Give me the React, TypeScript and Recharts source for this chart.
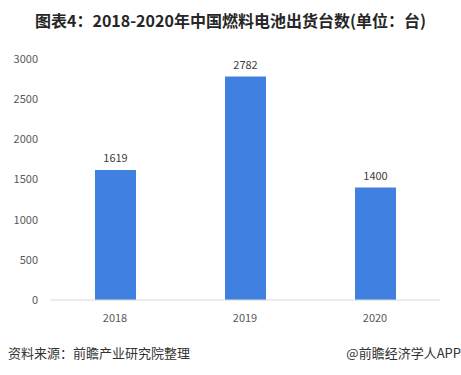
import React from "react";
import { BarChart, Bar, XAxis, YAxis, LabelList } from "recharts";

const years = ["2018", "2019", "2020"];
const shipments = [1619, 2782, 1400];
const yTicks = [0, 500, 1000, 1500, 2000, 2500, 3000];

const data = years.map((year, i) => ({ year, value: shipments[i] }));

const font = '"Microsoft YaHei", "Noto Sans CJK SC", sans-serif';

export default function App() {
  return (
    <div style={{ position: "absolute", left: 0, top: 0, width: 461, height: 375, background: "#fff", fontFamily: font }}>
      <div
        style={{
          position: "absolute", left: 0, top: 9, width: 461, textAlign: "center",
          fontSize: 16, fontWeight: 700, color: "#262626", lineHeight: "22px",
        }}
      >
        图表4：2018-2020年中国燃料电池出货台数(单位：台)
      </div>
      <BarChart width={461} height={375} data={data} margin={{ top: 59, right: 21, bottom: 45, left: 0 }}>
        <XAxis
          dataKey="year"
          height={30}
          tickLine={false}
          axisLine={{ stroke: "#d9d9d9" }}
          tick={{ fill: "#595959", fontSize: 11, fontFamily: font }}
          tickMargin={8}
        />
        <YAxis
          width={50}
          domain={[0, 3000]}
          ticks={yTicks}
          axisLine={false}
          tickLine={false}
          tick={{ fill: "#595959", fontSize: 11, fontFamily: font }}
          tickMargin={6}
        />
        <Bar dataKey="value" fill="#3F80E0" barSize={41} isAnimationActive={false}>
          <LabelList dataKey="value" position="top" offset={8} fill="#404040" fontSize={11} fontFamily={font} />
        </Bar>
      </BarChart>
      <div style={{ position: "absolute", left: 8, top: 344, fontSize: 13, color: "#333", lineHeight: "18px" }}>
        资料来源：前瞻产业研究院整理
      </div>
      <div style={{ position: "absolute", right: 0, top: 344, fontSize: 13, color: "#333", lineHeight: "18px" }}>
        @前瞻经济学人APP
      </div>
    </div>
  );
}
